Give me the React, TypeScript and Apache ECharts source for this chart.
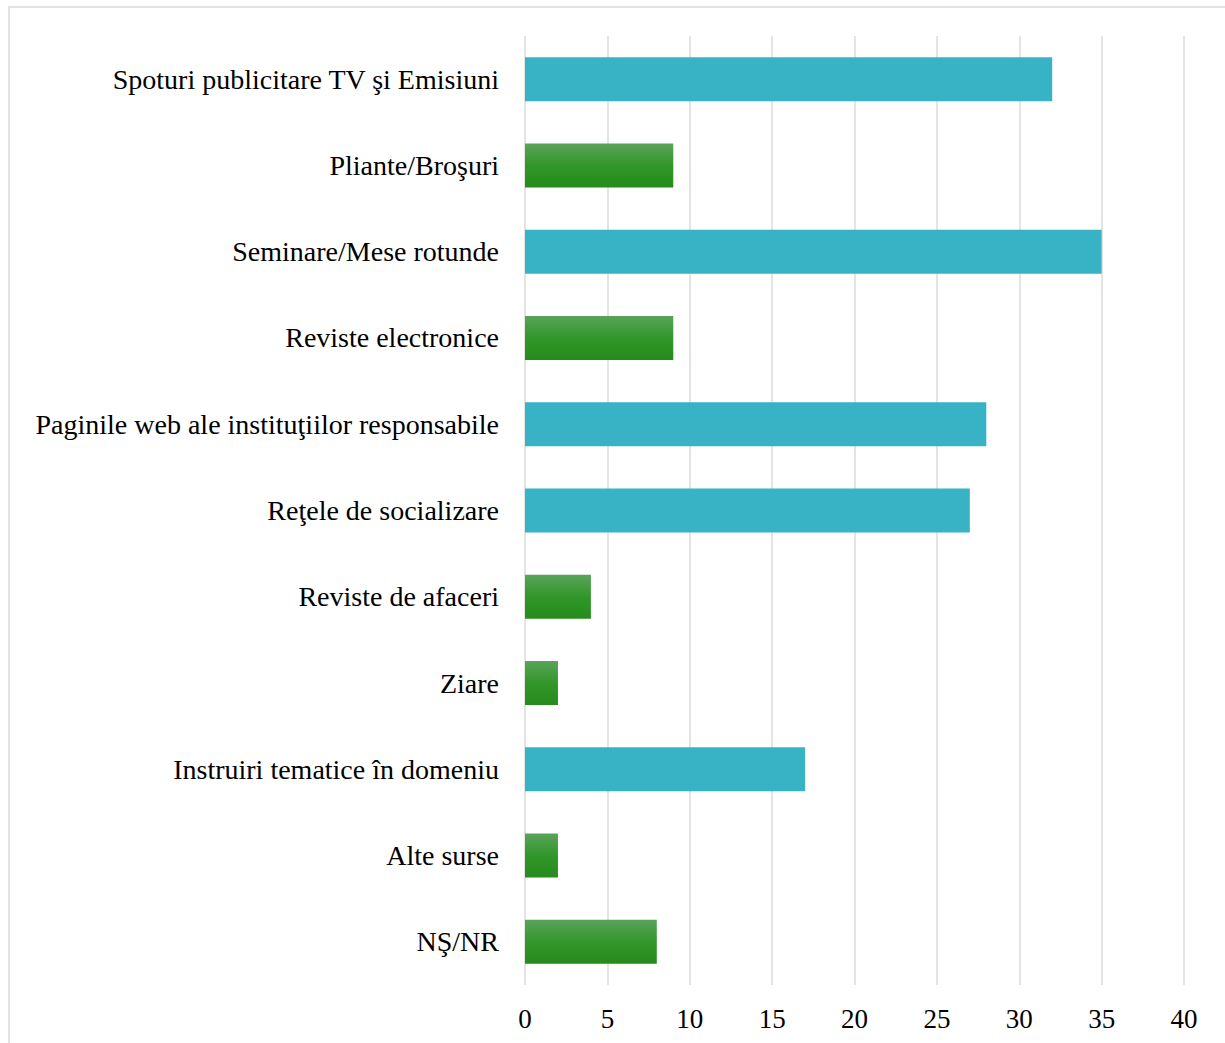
import React, { useEffect, useRef } from "react";
import * as echarts from "echarts";

const categories = [
  "Spoturi publicitare TV şi Emisiuni",
  "Pliante/Broşuri",
  "Seminare/Mese rotunde",
  "Reviste electronice",
  "Paginile web ale instituţiilor responsabile",
  "Reţele de socializare",
  "Reviste de afaceri",
  "Ziare",
  "Instruiri tematice în domeniu",
  "Alte surse",
  "NŞ/NR",
];
const values = [32, 9, 35, 9, 28, 27, 4, 2, 17, 2, 8];
const kinds = ["teal", "green", "teal", "green", "teal", "teal", "green", "green", "teal", "green", "green"];
const xTicks = { min: 0, max: 40, step: 5 };

const FONT = "'Liberation Serif', serif";

export default function App() {
  const ref = useRef<HTMLDivElement>(null);
  useEffect(() => {
    if (!ref.current) return;
    const chart = echarts.init(ref.current, undefined, { renderer: "svg" });
    const green = new echarts.graphic.LinearGradient(0, 0, 0, 1, [
      { offset: 0, color: "#5aa35a" },
      { offset: 0.5, color: "#32972a" },
      { offset: 1, color: "#268a1c" },
    ]);
    chart.setOption({
      animation: false,
      backgroundColor: "#ffffff",
      graphic: [
        {
          type: "rect",
          shape: { x: 9, y: 7, width: 1300, height: 1100 },
          style: { fill: "none", stroke: "#e3e3df", lineWidth: 2 },
          silent: true,
        },
      ],
      grid: { left: 525, right: 41, top: 36, bottom: 58, containLabel: false },
      xAxis: {
        type: "value",
        min: xTicks.min,
        max: xTicks.max,
        interval: xTicks.step,
        axisLine: { show: false },
        axisTick: { show: false },
        axisLabel: { fontFamily: FONT, fontSize: 27, color: "#000", margin: 20 },
        splitLine: { show: true, lineStyle: { color: "#e4e4e0", width: 2 } },
      },
      yAxis: {
        type: "category",
        inverse: true,
        data: categories,
        axisLine: { show: false },
        axisTick: { show: false },
        axisLabel: { fontFamily: FONT, fontSize: 28, color: "#000", margin: 26 },
      },
      series: [
        {
          type: "bar",
          barWidth: 44,
          data: values.map((v, i) => ({
            value: v,
            itemStyle: { color: kinds[i] === "teal" ? "#38b3c5" : green },
          })),
        },
      ],
    });
    return () => chart.dispose();
  }, []);
  return (
    <div
      ref={ref}
      style={{ position: "absolute", left: 0, top: 0, width: 1225, height: 1043 }}
    />
  );
}
